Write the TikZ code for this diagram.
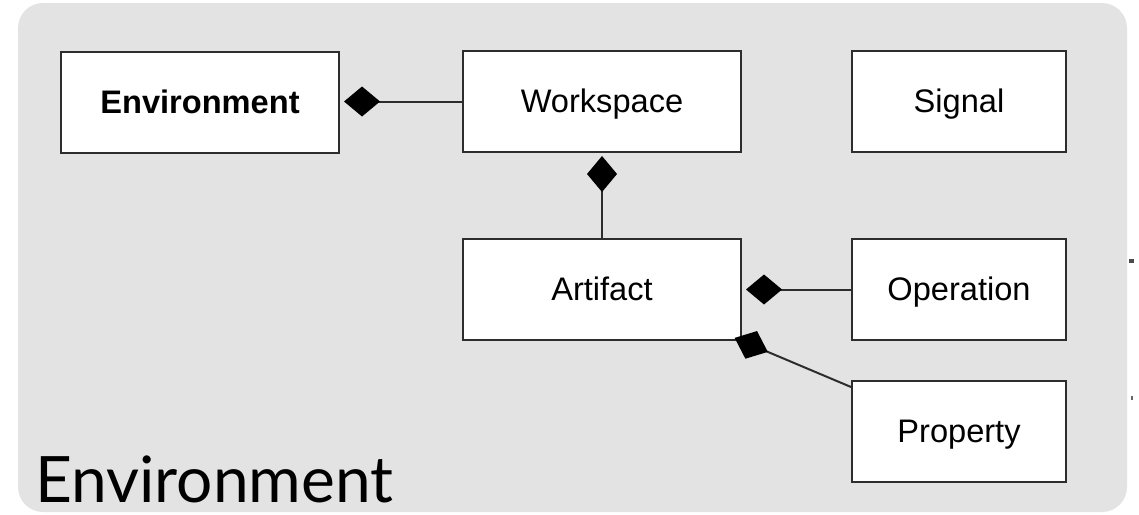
\documentclass[tikz,border=0pt]{standalone}
\usepackage{fontspec}
\setmainfont{Liberation Sans}
\newfontfamily\titlefont{Lato}
\usetikzlibrary{arrows.meta}
\definecolor{panelgray}{RGB}{227,227,227}
\definecolor{edgegray}{RGB}{45,45,45}
\begin{document}
\begin{tikzpicture}[x=0.5pt,y=-0.5pt,
  cls/.style={draw=edgegray, line width=1pt, fill=white, inner sep=0pt,
    text height=11.5pt, text depth=1pt,
    minimum height=50.5pt, font=\fontsize{16.3}{20}\selectfont},
  widecls/.style={cls, minimum width=139pt},
  narrowcls/.style={cls, minimum width=107pt},
  comp/.style={draw=edgegray, line width=1pt,
    -{Diamond[length=18pt,width=15pt,fill=black,color=black]}}]
  \useasboundingbox (0,0) rectangle (1139,514);
  % panel
  \fill[panelgray, rounded corners=12.5pt] (18,3) rectangle (1127,512);
  \fill[black!70] (1129,259) rectangle (1134,263);
  \fill[black!60] (1131,396) rectangle (1133,400);
  % classes
  \node[widecls, font=\bfseries\fontsize{16.3}{20}\selectfont] (env) at (200,102.5) {Environment};
  \node[widecls] (ws) at (602,101.5) {Workspace};
  \node[narrowcls] (sig) at (959,101.5) {Signal};
  \node[widecls] (art) at (602,289.5) {Artifact};
  \node[narrowcls] (op) at (959,289.5) {Operation};
  \node[narrowcls] (prop) at (959,431.5) {Property};
  % compositions
  \draw[comp, shorten >=2pt] (ws.west) -- (ws.west -| env.east);
  \draw[comp, shorten >=1.5pt] (art.north) -- (ws.south);
  \draw[comp, shorten >=2pt] (op.west) -- (op.west -| art.east);
  \draw[comp, shorten >=-4pt] ([yshift=-3.5pt]prop.north west) -- (art.south east);
  % panel title
  \node[anchor=base west, inner sep=0pt, font=\titlefont\fontsize{32}{36}\selectfont] (title) at (35,502) {Environment};
\end{tikzpicture}
\end{document}
